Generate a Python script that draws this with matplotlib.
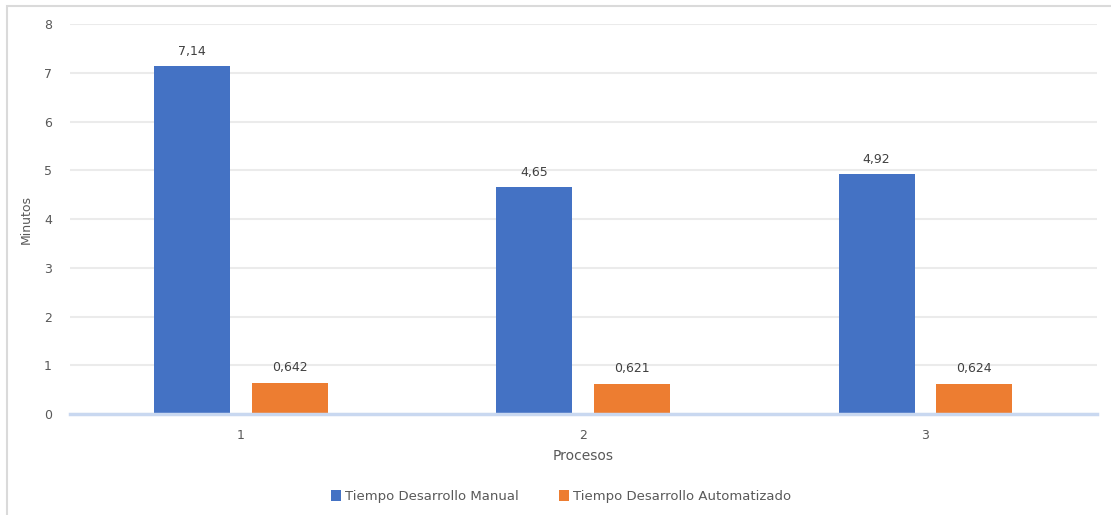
import numpy as np
import matplotlib.pyplot as plt
from matplotlib.patches import Rectangle

procesos = ["1", "2", "3"]
manual = [7.14, 4.65, 4.92]
automatizado = [0.642, 0.621, 0.624]
manual_labels = ["7,14", "4,65", "4,92"]
auto_labels = ["0,642", "0,621", "0,624"]

BLUE = "#4472C4"
ORANGE = "#ED7D31"
GRAY = "#595959"

fig = plt.figure(figsize=(11.11, 5.15), dpi=100)
ax = fig.add_axes([0.063, 0.196, 0.924, 0.757])

# chart border (cut at right/bottom like the screenshot)
fig.patches.append(Rectangle((7 / 1111, -0.1), 1.2, 1 - 6 / 515 + 0.1,
                             transform=fig.transFigure, fill=False,
                             edgecolor="#DADADA", linewidth=1.5))

x = np.arange(len(procesos))
w = 0.222
off = 0.143
b1 = ax.bar(x - off, manual, w, color=BLUE, label="Tiempo Desarrollo Manual", zorder=3)
b2 = ax.bar(x + off, automatizado, w, color=ORANGE, label="Tiempo Desarrollo Automatizado", zorder=3)

for rect, lab in zip(b1, manual_labels):
    ax.annotate(lab, (rect.get_x() + rect.get_width() / 2, rect.get_height()),
                xytext=(0, 6), textcoords="offset points", ha="center", va="bottom",
                fontsize=9, color="#404040")
for rect, lab in zip(b2, auto_labels):
    ax.annotate(lab, (rect.get_x() + rect.get_width() / 2, rect.get_height()),
                xytext=(0, 6), textcoords="offset points", ha="center", va="bottom",
                fontsize=9, color="#404040")

ax.set_xlim(-0.5, 2.5)
ax.set_ylim(0, 8)
ax.set_yticks(range(0, 9))
ax.set_xticks(x)
ax.set_xticklabels(procesos)
ax.yaxis.grid(True, color="#EBEBEB", linewidth=1.5, zorder=0)
ax.set_axisbelow(True)
for s in ["top", "right", "left"]:
    ax.spines[s].set_visible(False)
ax.spines["bottom"].set_color("#C9D8F0")
ax.spines["bottom"].set_linewidth(2.5)
ax.spines["bottom"].set_zorder(4)
ax.tick_params(axis="both", length=0, labelsize=9, colors=GRAY)
ax.tick_params(axis="x", pad=11)
ax.tick_params(axis="y", pad=13)

ax.set_ylabel("Minutos", fontsize=9, color=GRAY, labelpad=8)
ax.set_xlabel("Procesos", fontsize=10, color=GRAY, labelpad=5)

fig.legend(loc="lower center", bbox_to_anchor=(0.505, 0.0), ncol=2, frameon=False,
           fontsize=9.5, labelcolor=GRAY, handlelength=0.8, handleheight=0.8,
           handletextpad=0.3, columnspacing=3.0)

fig.savefig("out.png", dpi=100)
